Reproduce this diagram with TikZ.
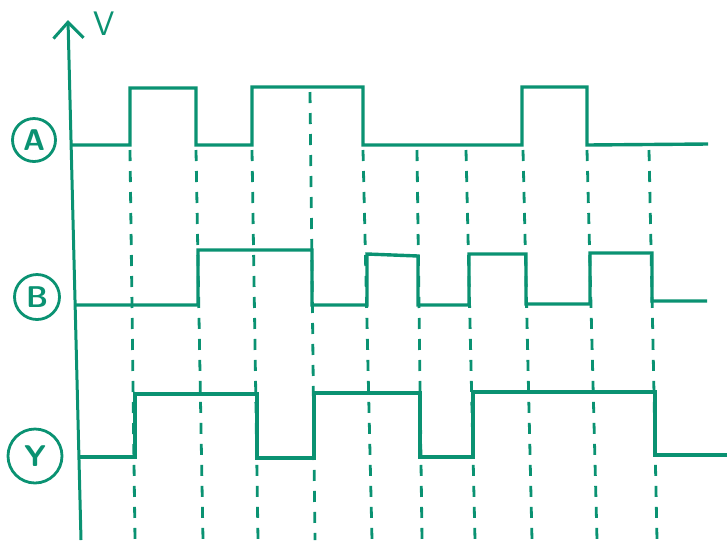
\documentclass[tikz,border=0pt]{standalone}
\usetikzlibrary{arrows.meta}
\definecolor{ink}{RGB}{10,146,114}

\begin{document}
\begin{tikzpicture}[x=1pt,y=-1pt,
    wave/.style={ink,line width=3.4pt,line join=miter},
    guide/.style={ink,line width=2.8pt,dash pattern=on 11pt off 10pt},
    tag/.style={circle,draw=ink,line width=2.8pt,text=ink,inner sep=0pt,
      font=\fontsize{30}{30}\selectfont\sffamily\bfseries}]
  \useasboundingbox (0,0) rectangle (727,550);

  % axis
  \draw[ink,line width=3pt,-{Straight Barb[length=16pt,width=30pt]}] (81,540) -- (68,20);
  \node[ink,font=\fontsize{34}{34}\selectfont\sffamily] (volt) at (104,24) {V};

  % row labels
  \node[tag,minimum size=43pt] (lblA) at (34,140) {A};
  \node[tag,minimum size=45pt] (lblB) at (37,297) {B};
  \node[tag,minimum size=54pt] (lblY) at (35,456) {Y};

  % dashed guides
  \foreach \xt/\yt/\xb in {130/150/135, 196/150/203, 252/150/258, 310/92/315,
      363/150/372, 417/150/422, 466/150/475, 523/150/532, 587/150/597, 649/150/657}
    \draw[guide] (\xt,\yt) -- (\xb,540);

  % input A
  \draw[wave] (71,145) -- (130,145) -- (130,88) -- (196,88) -- (196,145)
    -- (252,145) -- (252,87) -- (363,87) -- (363,145) -- (522,145)
    -- (522,87) -- (587,87) -- (587,145) -- (708,144);

  % input B
  \draw[wave] (76,305) -- (198,305) -- (198,250) -- (312,250) -- (312,305)
    -- (367,305) -- (367,254) -- (418,256) -- (418,305) -- (469,305)
    -- (469,254) -- (526,254) -- (526,304) -- (590,304) -- (590,253)
    -- (652,253) -- (652,301) -- (707,301);

  % output Y
  \draw[wave] (79,457) -- (135,457) -- (135,394) -- (257,394) -- (257,458)
    -- (314,458) -- (314,393) -- (420,393) -- (420,457) -- (473,457)
    -- (473,392) -- (655,392) -- (655,455) -- (727,455);
\end{tikzpicture}
\end{document}
